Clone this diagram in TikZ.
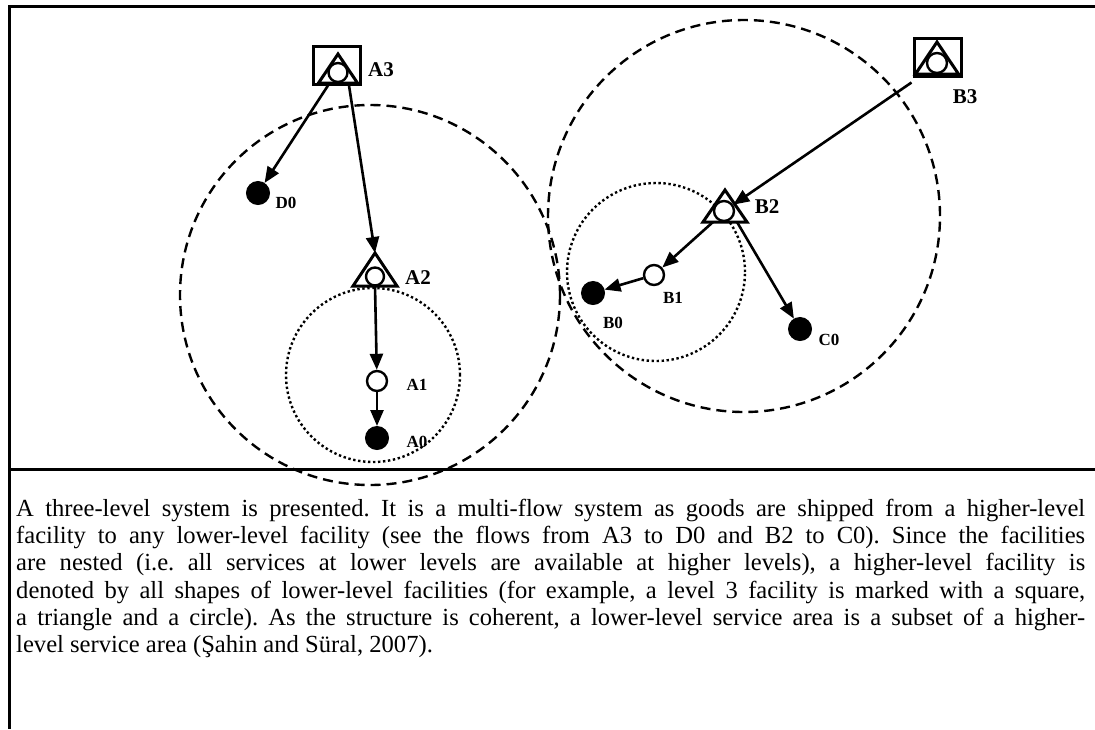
\documentclass[tikz,border=0pt]{standalone}
\usepackage{fontspec}
\setmainfont{Liberation Serif}
\usetikzlibrary{arrows.meta}
\begin{document}
\begin{tikzpicture}[x=1pt,y=-1pt,
  frameline/.style={line width=3pt},
  flow/.style={line width=2.6pt,-{Triangle[length=16pt,width=13pt]}},
  servicebig/.style={line width=2.4pt,dash pattern=on 10pt off 6pt},
  servicesmall/.style={line width=2.4pt,dash pattern=on 2.4pt off 2.6pt},
  sqmark/.style={draw,line width=3pt,rectangle,minimum width=47pt,minimum height=38pt,inner sep=0pt},
  opensite/.style={draw,line width=2.4pt,circle,fill=white,minimum size=20pt,inner sep=0pt},
  fullsite/.style={draw,line width=1pt,circle,fill=black,minimum size=23pt,inner sep=0pt},
  biglabel/.style={font=\fontsize{21}{23}\selectfont\bfseries,inner sep=0pt},
  smalllabel/.style={font=\fontsize{17}{19}\selectfont\bfseries,inner sep=0pt},
  trimark/.style={line width=3pt,line join=miter}
]
\useasboundingbox (0,0) rectangle (1095,729);

% frame of the figure and its caption
\coordinate (tl) at (9,6);
\coordinate (tr) at (1095,6);
\coordinate (bl) at (9,729);
\coordinate (ml) at (9,469);
\coordinate (mr) at (1095,469);
\draw[frameline] (tr) -- (tl) -- (bl);
\draw[frameline] (ml) -- (mr);

% service areas
\node[servicebig,draw,circle,minimum size=380pt,inner sep=0pt] (areaA) at (370,295) {};
\node[servicesmall,draw,circle,minimum size=174pt,inner sep=0pt] (areaA2) at (373,375) {};
\node[servicebig,draw,circle,minimum size=392pt,inner sep=0pt] (areaB) at (744,216) {};
\node[servicesmall,draw,circle,minimum size=178pt,inner sep=0pt] (areaB2) at (656,272) {};

% level 3 facilities: square, triangle and circle
\node[sqmark] (A3sq) at (337,65) {};
\draw[trimark] (338,54) coordinate (A3top) -- (357.5,83) -- (318.5,83) -- cycle;
\node[opensite,minimum size=19pt] (A3) at (338,72.5) {};
\node[biglabel] (A3lab) at (381,70) {A3};

\node[sqmark] (B3sq) at (937.5,57) {};
\draw[trimark] (937,42) coordinate (B3top) -- (958.5,74) -- (915.5,74) -- cycle;
\node[opensite,minimum size=20pt] (B3) at (937,63) {};
\node[biglabel] (B3lab) at (965,97) {B3};

% level 2 facilities: triangle and circle
\draw[trimark] (375,253) coordinate (A2top) -- (397,286) coordinate (A2r) -- (353,286) coordinate (A2l) -- cycle;
\coordinate (A2base) at (375,286);
\node[opensite,minimum size=18pt] (A2) at (375,276.5) {};
\node[biglabel] (A2lab) at (418,278) {A2};

\draw[trimark] (725,190) coordinate (B2top) -- (747,222) coordinate (B2r) -- (703,222) coordinate (B2l) -- cycle;
\node[opensite,minimum size=20pt] (B2) at (724,211) {};
\node[biglabel] (B2lab) at (767,207) {B2};

% level 1 facilities
\node[opensite] (A1) at (377,381) {};
\node[smalllabel] (A1lab) at (417,385) {A1};
\node[opensite] (B1) at (654,275) {};
\node[smalllabel] (B1lab) at (673,298) {B1};

% level 0 facilities
\node[fullsite] (A0) at (377,438) {};
\node[smalllabel] (A0lab) at (417,442) {A0};
\node[fullsite] (B0) at (593,293) {};
\node[smalllabel] (B0lab) at (613,323) {B0};
\node[fullsite] (C0) at (800,329) {};
\node[smalllabel] (C0lab) at (829,340) {C0};
\node[fullsite] (D0) at (258,193) {};
\node[smalllabel] (D0lab) at (286,203) {D0};

% flows of goods
\draw[flow] ([xshift=-9pt]A3sq.south) -- (D0);
\draw[flow] ([xshift=12pt]A3sq.south) -- (A2top);
\draw[flow] (A2base) -- (A1);
\draw[flow] (A1) -- (A0);
\draw[flow] ([shift={(-1pt,-5pt)}]B3sq.south west) -- (B2);
\draw[flow] ([xshift=10pt]B2l) -- (B1);
\draw[flow] (B1) -- (B0);
\draw[flow] ([xshift=-10pt]B2r) -- (C0);

% caption
\node[anchor=north west,inner sep=0pt,text width=1069pt,align=justify,
      font=\fontsize{24.6}{27.2}\selectfont\frenchspacing] (caption) at (16,499) {%
A three-level system is presented. It is a multi-flow system as goods are shipped from a higher-level\linebreak
facility to any lower-level facility (see the flows from A3 to D0 and B2 to C0). Since the facilities\linebreak
are nested (i.e. all services at lower levels are available at higher levels), a higher-level facility is\linebreak
denoted by all shapes of lower-level facilities (for example, a level 3 facility is marked with a square,\linebreak
a triangle and a circle). As the structure is coherent, a lower-level service area is a subset of a higher-\linebreak
level service area (Şahin and Süral, 2007).};
\end{tikzpicture}
\end{document}
